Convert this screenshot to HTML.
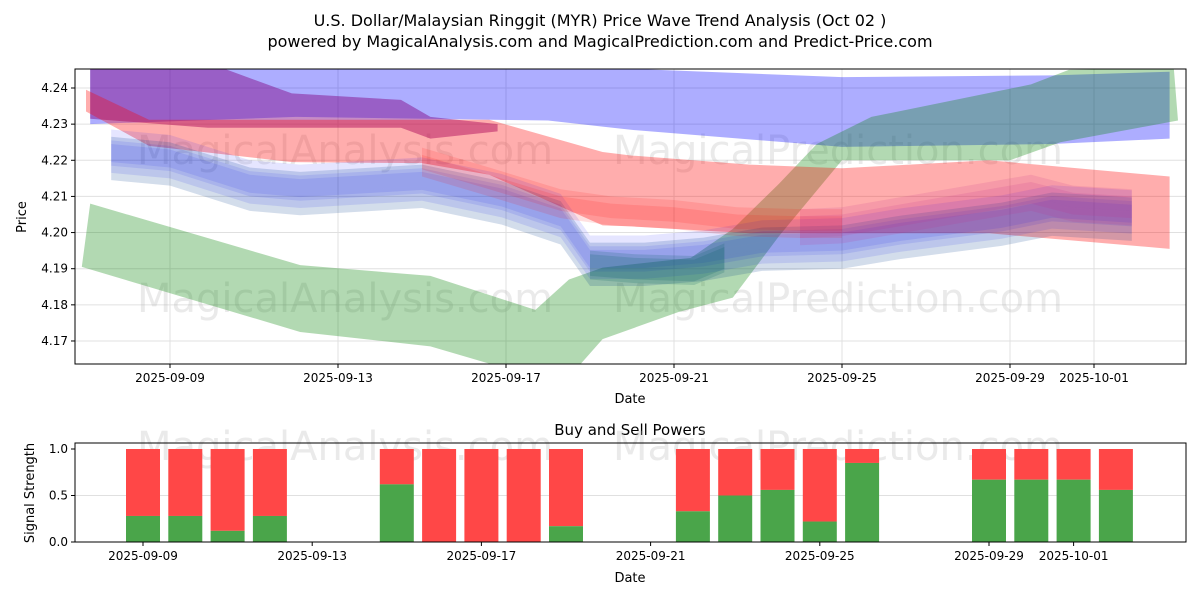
<!DOCTYPE html>
<html><head><meta charset="utf-8">
<style>
body{margin:0;background:#fff;font-family:"Liberation Sans","DejaVu Sans",sans-serif;}
svg text{font-family:"DejaVu Sans","Liberation Sans",sans-serif;}
</style></head>
<body>
<svg id="chart" width="1200" height="600" xmlns="http://www.w3.org/2000/svg">
<rect width="1200" height="600" fill="#fff"/>
<text x="600" y="26" text-anchor="middle" font-size="16">U.S. Dollar/Malaysian Ringgit (MYR) Price Wave Trend Analysis (Oct 02 )</text>
<text x="600" y="47" text-anchor="middle" font-size="16">powered by MagicalAnalysis.com and MagicalPrediction.com and Predict-Price.com</text>
<g id="topPlot"></g>
<g id="botPlot"></g>
</svg>
<script>
// ---- data ----
const xTickLabels=["2025-09-09","2025-09-13","2025-09-17","2025-09-21","2025-09-25","2025-09-29","2025-10-01"];
const xTickDays=[0,4,8,12,16,20,22];
const yTicks=[4.17,4.18,4.19,4.20,4.21,4.22,4.23,4.24];
const blueDays=[-1.9,3,9,11,16,21,23.8];
const blueUp=[4.247,4.247,4.247,4.2453,4.243,4.2435,4.2445];
const blueLo=[4.230,4.232,4.231,4.2284,4.2237,4.2245,4.226];
const purpleDays=[-1.9,0.9,2.9,5.5,6.2,7.8];
const purpleUp=[4.247,4.247,4.2385,4.2367,4.232,4.230];
const purpleLo=[4.2315,4.229,4.229,4.229,4.226,4.228];
const redDays=[-2,-0.5,2.9,6,7.6,10.3,11,13.8,16,19.5,23.8];
const redUp=[4.2395,4.2312,4.2312,4.2312,4.2312,4.2223,4.2213,4.2188,4.2178,4.2200,4.2155];
const redLo=[4.2335,4.2240,4.2195,4.2192,4.2160,4.2020,4.2017,4.1998,4.1998,4.1998,4.1955];
const greenTopDays=[-1.9,3.1,6.2,8.7,9.5,10.3,12.4,13.4,14.5,15.4,16.7,20.5,21.4,23.9];
const greenTop=[4.2080,4.1910,4.1880,4.1786,4.1870,4.1903,4.1930,4.2010,4.2135,4.2245,4.2320,4.2410,4.2450,4.2455];
const greenBotDays=[-2.1,3.1,6.2,8.7,9.5,10.3,12.1,13.4,14.5,16.0,20.0,21.2,24.0];
const greenBot=[4.1905,4.1725,4.1685,4.1600,4.1600,4.1705,4.1780,4.1820,4.1990,4.2200,4.2200,4.2250,4.2310];
const midDays=[-1.4,0,1.9,3.1,6,7.9,9.3,10,11.3,12.7,14.1,16,17.4,19.8,21,22.9];
const midPrice=[4.2215,4.2200,4.2130,4.2118,4.2138,4.2092,4.2037,4.1922,4.1922,4.1936,4.1964,4.1970,4.1997,4.2033,4.2061,4.2047];
const tealDays=[10.0,11.07,12.48,13.2];
const tealPrice=[4.1915,4.1905,4.1900,4.1935];
const redClDays=[6,7.6,9.3,10.5,12,13.5,15,16];
const redClPrice=[4.2175,4.2120,4.2060,4.2040,4.2030,4.2010,4.2005,4.2005];
const pinkDays=[15,16,17.5,19.5,20.5,21.5,22.9];
const pinkPrice=[4.2005,4.2010,4.2040,4.2080,4.2100,4.2070,4.2060];
const barDays=[0,1,2,3,6,7,8,9,10,13,14,15,16,17,20,21,22,23];
const buyPower=[0.28,0.28,0.12,0.28,0.62,0,0,0,0.17,0.33,0.5,0.56,0.22,0.85,0.67,0.67,0.67,0.56];
const sellPower=buyPower.map(v=>1-v);
const bTicks=[0.0,0.5,1.0];

// ---- scales ----
const L=75,R=1186,T1=69,B1=364,T2=443,B2=542;
const xs=d=>170+42*d;
const xsb=d=>143+42.3*d;
const ys=p=>88+(4.24-p)*3614;
const yb=v=>542-93*v;
const NS="http://www.w3.org/2000/svg";
function mk(parent,tag,attrs){const e=document.createElementNS(NS,tag);for(const k in attrs)e.setAttribute(k,attrs[k]);parent.appendChild(e);return e;}
const svgEl=document.getElementById('chart');
const topG=document.getElementById('topPlot'), botG=document.getElementById('botPlot');
const defs=mk(svgEl,'defs',{});
const c1=mk(defs,'clipPath',{id:'c1'});mk(c1,'rect',{x:L,y:T1,width:R-L,height:B1-T1});

xTickDays.forEach((d,i)=>{
  const g=mk(topG,'line',{x1:xs(d),x2:xs(d),y1:T1,y2:B1,stroke:'#e0e0e0','stroke-width':1});
  
});
yTicks.forEach(p=>{
  const g=mk(topG,'line',{x1:L,x2:R,y1:ys(p),y2:ys(p),stroke:'#e0e0e0','stroke-width':1});
  
});
[[345,150,'MagicalAnalysis.com'],[838,150,'MagicalPrediction.com'],[345,298,'MagicalAnalysis.com'],[838,298,'MagicalPrediction.com']].forEach(w=>{
  const t=mk(topG,'text',{x:w[0],y:w[1]+14,'text-anchor':'middle','font-size':40,fill:'#bbb','fill-opacity':0.3});
  t.textContent=w[2];
  
});
const plotG=mk(topG,'g',{'clip-path':'url(#c1)'});
function band(days,up,lo,color,op,name){
  let pts=days.map((d,i)=>xs(d)+','+ys(up[i]));
  for(let i=days.length-1;i>=0;i--)pts.push(xs(days[i])+','+ys(lo[i]));
  const p=mk(plotG,'polygon',{points:pts.join(' '),fill:color,'fill-opacity':op});
  
}
function band2(dTop,up,dBot,lo,color,op,name){
  let pts=dTop.map((d,i)=>xs(d)+','+ys(up[i]));
  for(let i=dBot.length-1;i>=0;i--)pts.push(xs(dBot[i])+','+ys(lo[i]));
  const p=mk(plotG,'polygon',{points:pts.join(' '),fill:color,'fill-opacity':op});
  
}
function cluster(days,price,offs,color,op,half,name){
  offs.forEach(o=>{
    const up=price.map(p=>p+o+half), lo=price.map(p=>p+o-half);
    band(days,up,lo,color,op,name);
  });
}
band(blueDays,blueUp,blueLo,'#0000ff',0.32,'blue-wave-band');
band2(greenTopDays,greenTop,greenBotDays,greenBot,'#008000',0.30,'green-wave-band');
band(purpleDays,purpleUp,purpleLo,'#800080',0.45,'purple-wave-band');
band(redDays,redUp,redLo,'#ff0000',0.32,'red-wave-band');
cluster(midDays,midPrice,[-0.004,-0.002,0,0.002,0.004,0.001],'#0000ff',0.1,0.003,'blue-wave-cluster');
cluster(midDays,midPrice,[-0.004,0.002],'#008000',0.08,0.003,'green-wave-cluster');
cluster(tealDays,tealPrice,[0,-0.001],'#006060',0.18,0.0035,'teal-wave-cluster');
cluster(redClDays,redClPrice,[0,0.002,0.004],'#ff0000',0.12,0.002,'red-wave-cluster');
cluster(pinkDays,pinkPrice,[-0.002,0,0.002,0.004],'#c0308f',0.15,0.002,'purple-wave-cluster');

mk(topG,'rect',{x:L,y:T1,width:R-L,height:B1-T1,fill:'none',stroke:'#000','stroke-width':1});
xTickDays.forEach((d,i)=>{
  mk(topG,'line',{x1:xs(d),x2:xs(d),y1:B1,y2:B1+4,stroke:'#000'});
  const t=mk(topG,'text',{x:xs(d),y:B1+18,'text-anchor':'middle','font-size':12});
  t.textContent=xTickLabels[i];
  
});
yTicks.forEach(p=>{
  mk(topG,'line',{x1:L-4,x2:L,y1:ys(p),y2:ys(p),stroke:'#000'});
  const t=mk(topG,'text',{x:L-7,y:ys(p)+4,'text-anchor':'end','font-size':12});
  t.textContent=p.toFixed(2);
  
});
let tx=mk(topG,'text',{x:630,y:403,'text-anchor':'middle','font-size':13});tx.textContent='Date';

tx=mk(topG,'text',{x:26,y:217,'text-anchor':'middle','font-size':13,transform:'rotate(-90 26 217)'});tx.textContent='Price';


tx=mk(botG,'text',{x:630,y:435,'text-anchor':'middle','font-size':15});tx.textContent='Buy and Sell Powers';

const bg=mk(botG,'line',{x1:L,x2:R,y1:yb(0.5),y2:yb(0.5),stroke:'#e0e0e0'});

[[345,'MagicalAnalysis.com'],[838,'MagicalPrediction.com']].forEach(w=>{
  const e=mk(botG,'text',{x:w[0],y:460,'text-anchor':'middle','font-size':40,fill:'#bbb','fill-opacity':0.3});
  e.textContent=w[1];
  
});
barDays.forEach((d,i)=>{
  const cx=xsb(d), w=34;
  const s=mk(botG,'rect',{x:cx-w/2,y:yb(buyPower[i]+sellPower[i]),width:w,height:yb(buyPower[i])-yb(buyPower[i]+sellPower[i]),fill:'#ff4747'});
  
  const b=mk(botG,'rect',{x:cx-w/2,y:yb(buyPower[i]),width:w,height:yb(0)-yb(buyPower[i]),fill:'#4aa54a'});
  
});
mk(botG,'rect',{x:L,y:T2,width:R-L,height:B2-T2,fill:'none',stroke:'#000','stroke-width':1});
xTickDays.forEach((d,i)=>{
  mk(botG,'line',{x1:xsb(d),x2:xsb(d),y1:B2,y2:B2+4,stroke:'#000'});
  const e=mk(botG,'text',{x:xsb(d),y:B2+18,'text-anchor':'middle','font-size':12});
  e.textContent=xTickLabels[i];
  
});
bTicks.forEach(v=>{
  mk(botG,'line',{x1:L-4,x2:L,y1:yb(v),y2:yb(v),stroke:'#000'});
  const e=mk(botG,'text',{x:L-7,y:yb(v)+4,'text-anchor':'end','font-size':12});
  e.textContent=v.toFixed(1);
  
});
tx=mk(botG,'text',{x:630,y:582,'text-anchor':'middle','font-size':13});tx.textContent='Date';

tx=mk(botG,'text',{x:34,y:493,'text-anchor':'middle','font-size':13,transform:'rotate(-90 34 493)'});tx.textContent='Signal Strength';

</script>
</body></html>
